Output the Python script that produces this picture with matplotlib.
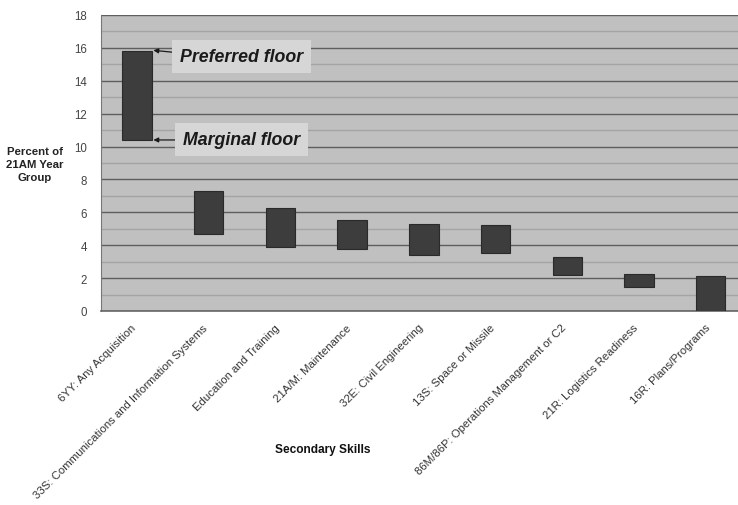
import matplotlib.pyplot as plt
import matplotlib.transforms as mtransforms
import numpy as np

# === DATA ===
skills = [
    "6YY: Any Acquisition",
    "33S: Communications and Information Systems",
    "Education and Training",
    "21A/M: Maintenance",
    "32E: Civil Engineering",
    "13S: Space or Missile",
    "86M/86P: Operations Management or C2",
    "21R: Logistics Readiness",
    "16R: Plans/Programs",
]
marginal_floor = [10.4, 4.7, 3.9, 3.8, 3.4, 3.5, 2.2, 1.45, 0.0]
preferred_floor = [15.8, 7.3, 6.25, 5.55, 5.3, 5.2, 3.3, 2.25, 2.15]

plt.rcParams["font.family"] = ["Liberation Sans", "DejaVu Sans"]

fig = plt.figure(figsize=(7.38, 5.06), dpi=100)
ax = fig.add_axes([0.1369, 0.3834, 0.8631, 0.585])

x = np.arange(len(skills))
heights = np.array(preferred_floor) - np.array(marginal_floor)
ax.bar(x, heights, bottom=marginal_floor, width=0.41, color="#3d3d3d",
       edgecolor="#2a2a2a", linewidth=0.8, zorder=3)

# === AXES STYLE ===
ax.set_facecolor("#c0c0c0")
ax.set_ylim(0, 18)
ax.set_xlim(-0.5, 8.38)
ax.set_yticks(np.arange(0, 19, 2))
ax.set_yticks(np.arange(1, 18, 2), minor=True)
ax.grid(True, which="major", axis="y", color="#5e5e5e", linewidth=1.0, zorder=1)
ax.grid(True, which="minor", axis="y", color="#a4a4a4", linewidth=1.0, zorder=1)
ax.tick_params(axis="y", which="both", length=0, labelsize=8.3, labelcolor="#444444", pad=10)
ax.tick_params(axis="x", length=0, pad=8)
for side in ["top", "right"]:
    ax.spines[side].set_visible(False)
ax.spines["left"].set_color("#777777")
ax.spines["bottom"].set_color("#666666")
ax.spines["bottom"].set_linewidth(1.2)

ax.set_xticks(x)
ax.set_xticklabels(skills, rotation=45, ha="right", va="top",
                   rotation_mode="anchor", fontsize=8.2, color="#333333")
shift = mtransforms.ScaledTranslation(-6 / 100, 0, fig.dpi_scale_trans)
for lbl in ax.get_xticklabels():
    lbl.set_transform(lbl.get_transform() + shift)

fig.text(0.047, 0.674, "Percent of\n21AM Year\nGroup", ha="center", va="center",
         fontsize=8.2, fontweight="bold", color="#222222", linespacing=1.35)
fig.text(0.438, 0.11, "Secondary Skills", ha="center", va="center",
         fontsize=8.6, fontweight="bold", color="#111111")

# === FLOOR ANNOTATIONS ===
box = dict(boxstyle="square,pad=0.45", facecolor="#d6d6d6", edgecolor="none")
ax.annotate("Preferred floor", xy=(0.23, 15.85), xytext=(0.6, 15.45),
            fontsize=12.8, fontweight="bold", fontstyle="italic", color="#1a1a1a",
            va="center", ha="left", bbox=box, zorder=4,
            arrowprops=dict(arrowstyle="-|>", color="#1a1a1a", lw=0.9,
                            shrinkA=0, shrinkB=0, mutation_scale=7,
                            relpos=(-0.02, 0.75)))
ax.annotate("Marginal floor", xy=(0.23, 10.4), xytext=(0.64, 10.4),
            fontsize=12.8, fontweight="bold", fontstyle="italic", color="#1a1a1a",
            va="center", ha="left", bbox=box, zorder=4,
            arrowprops=dict(arrowstyle="-|>", color="#1a1a1a", lw=0.9,
                            shrinkA=0, shrinkB=0, mutation_scale=7,
                            relpos=(-0.02, 0.5)))

fig.savefig("out.png", dpi=100)
